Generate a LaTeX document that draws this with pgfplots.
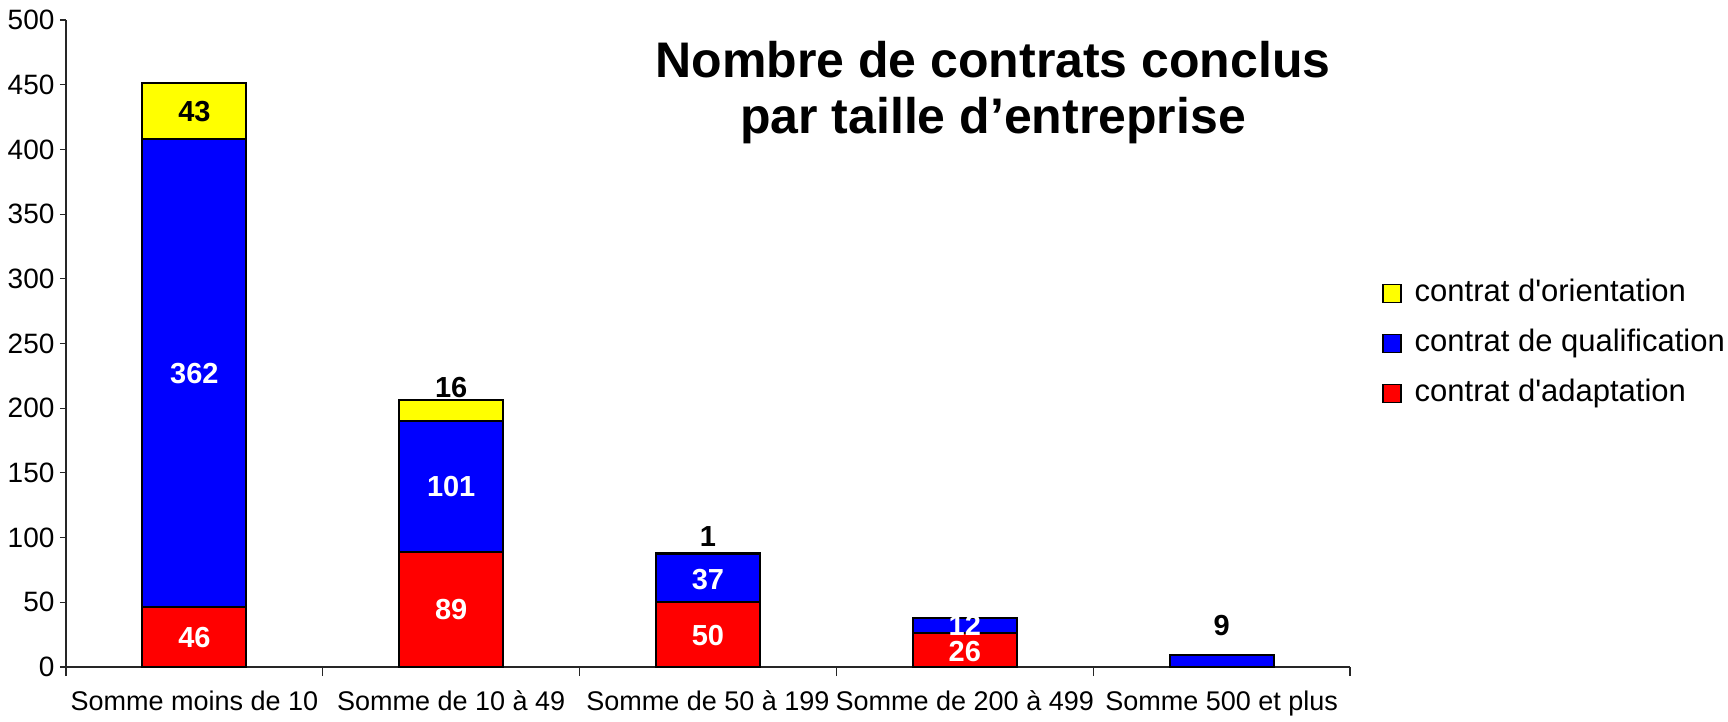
\documentclass[border=0pt]{standalone}
\usepackage{fontspec}
\setmainfont{Liberation Sans}
\usepackage{pgfplots}
\pgfplotsset{compat=1.18}
\definecolor{cy}{RGB}{255,255,0}
\definecolor{cb}{RGB}{0,0,255}
\definecolor{cr}{RGB}{255,0,0}
\begin{document}
\begin{tikzpicture}[x=1pt,y=1pt]
\path[use as bounding box] (-66pt,-54pt) rectangle (1662pt,667pt);
\begin{axis}[
  at={(0pt,0pt)}, anchor=south west,
  scale only axis, width=1284pt, height=647pt,
  ybar stacked, bar width=104pt,
  xmin=-0.5, xmax=4.5, ymin=0, ymax=500,
  ytick={0,50,...,500},
  xtick={0,1,2,3,4},
  xticklabels={Somme moins de 10,Somme de 10 à 49,Somme de 50 à 199,Somme de 200 à 499,Somme 500 et plus},
  minor xtick={-0.5,0.5,1.5,2.5,3.5,4.5},
  major x tick style={draw=none},
  axis x line=bottom, axis y line=left,
  axis line style={-, line width=1.3pt, black!85},
  tick align=outside,
  major tick length=6pt,
  minor tick length=9pt,
  tick style={line width=1.1pt, black!85},
  tick label style={font=\fontsize{28}{32}\selectfont},
  /pgf/number format/assume math mode=true,
  xticklabel style={yshift=-14pt, font=\fontsize{27}{31}\selectfont},
  yticklabel style={xshift=-2pt},
  legend style={at={(axis description cs:1.0,0.5)}, anchor=west, xshift=32pt, draw=none,
    inner sep=0pt, row sep=21pt,
    nodes={inner sep=0pt, text height=22pt, text depth=7pt, anchor=west},
    font=\fontsize{31}{35}\selectfont},
  legend cell align=left,
  reverse legend,
  legend image code/.code={\draw[#1, line width=1.5pt] (0pt,-9pt) rectangle (18pt,9pt);},
  every axis plot/.append style={draw=black, line width=2pt},
]
\addplot[fill=cr] coordinates {(0,46) (1,89) (2,50) (3,26) (4,0)};
\addlegendentry{\hspace{13pt}contrat d\textquotesingle adaptation}
\addplot[fill=cb] coordinates {(0,362) (1,101) (2,37) (3,12) (4,9)};
\addlegendentry{\hspace{13pt}contrat de qualification}
\addplot[fill=cy] coordinates {(0,43) (1,16) (2,1) (3,0) (4,0)};
\addlegendentry{\hspace{13pt}contrat d\textquotesingle orientation}
\end{axis}
\begin{axis}[
  at={(0pt,0pt)}, anchor=south west,
  scale only axis, width=1284pt, height=647pt,
  xmin=-0.5, xmax=4.5, ymin=0, ymax=500,
  hide axis,
]
\node[white, font=\bfseries\fontsize{29}{32}\selectfont] at (axis cs:0,23) {46};
\node[white, font=\bfseries\fontsize{29}{32}\selectfont] at (axis cs:0,227) {362};
\node[black, font=\bfseries\fontsize{29}{32}\selectfont] at (axis cs:0,429.5) {43};
\node[white, font=\bfseries\fontsize{29}{32}\selectfont] at (axis cs:1,44.5) {89};
\node[white, font=\bfseries\fontsize{29}{32}\selectfont] at (axis cs:1,139.5) {101};
\node[black, font=\bfseries\fontsize{29}{32}\selectfont] at (axis cs:1,216) {16};
\node[white, font=\bfseries\fontsize{29}{32}\selectfont] at (axis cs:2,24) {50};
\node[white, font=\bfseries\fontsize{29}{32}\selectfont] at (axis cs:2,67.5) {37};
\node[black, font=\bfseries\fontsize{29}{32}\selectfont] at (axis cs:2,101) {1};
\node[white, font=\bfseries\fontsize{29}{32}\selectfont] at (axis cs:3,12) {26};
\node[white, font=\bfseries\fontsize{29}{32}\selectfont] at (axis cs:3,32) {12};
\node[black, font=\bfseries\fontsize{29}{32}\selectfont] at (axis cs:4,32) {9};
\node[align=center, font=\bfseries\fontsize{50}{56}\selectfont] at (axis cs:3.11,444) {Nombre de contrats conclus\\par taille d’entreprise};
\end{axis}
\end{tikzpicture}
\end{document}
